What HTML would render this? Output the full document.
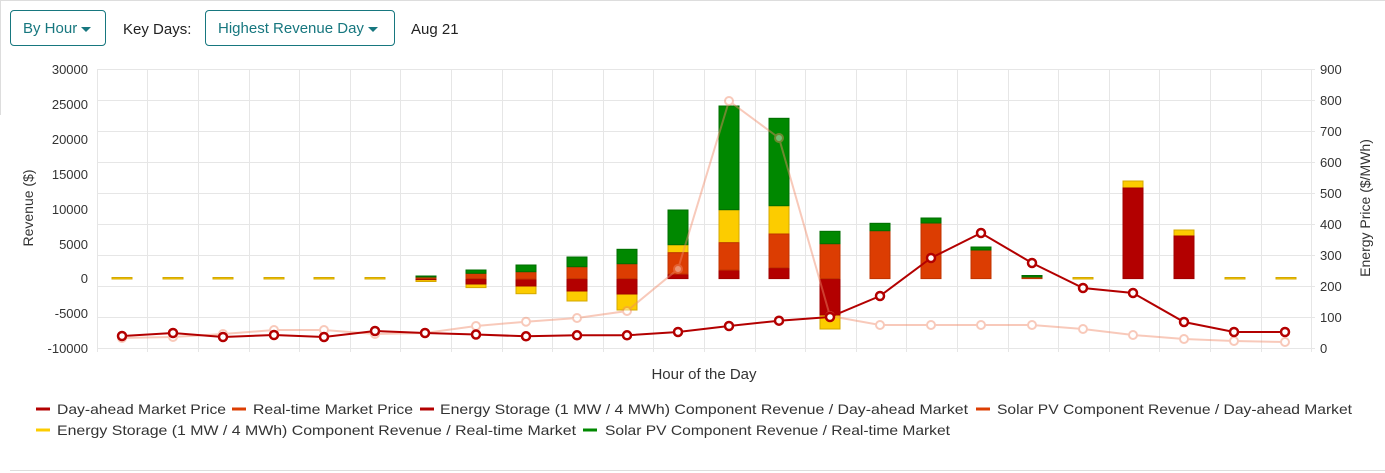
<!DOCTYPE html>
<html><head><meta charset="utf-8"><style>
html,body{margin:0;padding:0;background:#fff;width:1385px;height:473px;overflow:hidden;font-family:"Liberation Sans",sans-serif;}
.btn{position:absolute;top:10px;height:36px;border:1px solid #17777f;border-radius:4px;box-sizing:border-box;color:#17777f;font-size:15px;line-height:36px;padding-left:12px;}
.car{display:inline-block;width:0;height:0;border-left:5px solid transparent;border-right:5px solid transparent;border-top:5px solid #17777f;vertical-align:middle;margin-left:4px;}
.lbl{position:absolute;top:21px;font-size:15px;color:#222;}
</style></head><body>
<div style="position:absolute;left:0;top:0;width:1385px;height:1px;background:#ddd"></div>
<div style="position:absolute;left:0;top:0;width:1px;height:115px;background:#ddd"></div>
<div style="position:absolute;left:10px;top:470px;width:1375px;height:1px;background:#ddd"></div>
<div class="btn" style="left:10px;width:96px">By Hour<span class="car"></span></div>
<div class="lbl" style="left:123px">Key Days:</div>
<div class="btn" style="left:205px;width:190px">Highest Revenue Day<span class="car"></span></div>
<div class="lbl" style="left:411px">Aug 21</div>
<svg width="1385" height="473" style="position:absolute;left:0;top:0" font-family="Liberation Sans, sans-serif">
<g stroke="#e6e6e6" stroke-width="1">
<line x1="97" x2="1311" y1="69.5" y2="69.5"/><line x1="97" x2="1311" y1="100.5" y2="100.5"/><line x1="97" x2="1311" y1="131.5" y2="131.5"/><line x1="97" x2="1311" y1="162.5" y2="162.5"/><line x1="97" x2="1311" y1="193.5" y2="193.5"/><line x1="97" x2="1311" y1="224.5" y2="224.5"/><line x1="97" x2="1311" y1="255.5" y2="255.5"/><line x1="97" x2="1311" y1="286.5" y2="286.5"/><line x1="97" x2="1311" y1="317.5" y2="317.5"/><line x1="97" x2="1311" y1="348.5" y2="348.5"/>
<line x1="97.5" x2="97.5" y1="69" y2="352"/><line x1="147.5" x2="147.5" y1="69" y2="352"/><line x1="198.5" x2="198.5" y1="69" y2="352"/><line x1="249.5" x2="249.5" y1="69" y2="352"/><line x1="299.5" x2="299.5" y1="69" y2="352"/><line x1="350.5" x2="350.5" y1="69" y2="352"/><line x1="400.5" x2="400.5" y1="69" y2="352"/><line x1="451.5" x2="451.5" y1="69" y2="352"/><line x1="502.5" x2="502.5" y1="69" y2="352"/><line x1="552.5" x2="552.5" y1="69" y2="352"/><line x1="603.5" x2="603.5" y1="69" y2="352"/><line x1="653.5" x2="653.5" y1="69" y2="352"/><line x1="704.5" x2="704.5" y1="69" y2="352"/><line x1="755.5" x2="755.5" y1="69" y2="352"/><line x1="805.5" x2="805.5" y1="69" y2="352"/><line x1="856.5" x2="856.5" y1="69" y2="352"/><line x1="906.5" x2="906.5" y1="69" y2="352"/><line x1="957.5" x2="957.5" y1="69" y2="352"/><line x1="1008.5" x2="1008.5" y1="69" y2="352"/><line x1="1058.5" x2="1058.5" y1="69" y2="352"/><line x1="1109.5" x2="1109.5" y1="69" y2="352"/><line x1="1159.5" x2="1159.5" y1="69" y2="352"/><line x1="1210.5" x2="1210.5" y1="69" y2="352"/><line x1="1261.5" x2="1261.5" y1="69" y2="352"/><line x1="1311.5" x2="1311.5" y1="69" y2="352"/>
<line x1="1311" x2="1315" y1="69.5" y2="69.5"/><line x1="1311" x2="1315" y1="100.5" y2="100.5"/><line x1="1311" x2="1315" y1="131.5" y2="131.5"/><line x1="1311" x2="1315" y1="162.5" y2="162.5"/><line x1="1311" x2="1315" y1="193.5" y2="193.5"/><line x1="1311" x2="1315" y1="224.5" y2="224.5"/><line x1="1311" x2="1315" y1="255.5" y2="255.5"/><line x1="1311" x2="1315" y1="286.5" y2="286.5"/><line x1="1311" x2="1315" y1="317.5" y2="317.5"/><line x1="1311" x2="1315" y1="348.5" y2="348.5"/>
</g>
<g font-size="13" fill="#333" text-anchor="end">
<text x="88" y="74">30000</text><text x="88" y="109">25000</text><text x="88" y="144">20000</text><text x="88" y="179">15000</text><text x="88" y="214">10000</text><text x="88" y="249">5000</text><text x="88" y="283">0</text><text x="88" y="318">-5000</text><text x="88" y="353">-10000</text>
</g>
<g font-size="13" fill="#333">
<text x="1320" y="74">900</text><text x="1320" y="105">800</text><text x="1320" y="136">700</text><text x="1320" y="167">600</text><text x="1320" y="198">500</text><text x="1320" y="229">400</text><text x="1320" y="260">300</text><text x="1320" y="291">200</text><text x="1320" y="322">100</text><text x="1320" y="353">0</text>
</g>
<text transform="translate(33,208) rotate(-90)" font-size="14" fill="#333" text-anchor="middle">Revenue ($)</text>
<text transform="translate(1370,208) rotate(-90)" font-size="14" fill="#333" text-anchor="middle">Energy Price ($/MWh)</text>
<text x="704" y="379" font-size="15" fill="#333" text-anchor="middle">Hour of the Day</text>
<g stroke-width="1">
<g fill="#fccc00" stroke="#d4a800">
<rect x="112" y="277.5" width="20" height="1.5"/><rect x="163" y="277.5" width="20" height="1.5"/><rect x="213" y="277.5" width="20" height="1.5"/><rect x="264" y="277.5" width="20" height="1.5"/><rect x="314" y="277.5" width="20" height="1.5"/><rect x="365" y="277.5" width="20" height="1.5"/><rect x="1073" y="277.5" width="20" height="1.5"/><rect x="1225" y="277.5" width="20" height="1.5"/><rect x="1276" y="277.5" width="20" height="1.5"/>
<rect x="416" y="279.5" width="20" height="2"/><rect x="466" y="284" width="20" height="3.6"/><rect x="516" y="286" width="20" height="7.7"/><rect x="567" y="291" width="20" height="10"/><rect x="617" y="294" width="20" height="16"/><rect x="668" y="244.7" width="20" height="8"/><rect x="719" y="209.7" width="20" height="33"/><rect x="769" y="205.7" width="20" height="28.3"/><rect x="820" y="315" width="20" height="14"/><rect x="1123" y="181" width="20" height="7"/><rect x="1174" y="230" width="20" height="6"/>
</g>
<g fill="#b30000" stroke="#a00000">
<rect x="416" y="278.6" width="20" height="1"/><rect x="466" y="278.6" width="20" height="5.4"/><rect x="516" y="279" width="20" height="7"/><rect x="567" y="278.6" width="20" height="12.4"/><rect x="617" y="278.6" width="20" height="15.4"/><rect x="668" y="274" width="20" height="4.6"/><rect x="719" y="270" width="20" height="8.6"/><rect x="769" y="267.7" width="20" height="10.9"/><rect x="820" y="278.6" width="20" height="36.4"/><rect x="1123" y="188" width="20" height="90.6"/><rect x="1174" y="236" width="20" height="42.6"/>
</g>
<g fill="#dc3d02" stroke="#c03400">
<rect x="416" y="277" width="20" height="1.6"/><rect x="466" y="273.3" width="20" height="5.3"/><rect x="516" y="271.7" width="20" height="7.3"/><rect x="567" y="266.7" width="20" height="11.9"/><rect x="617" y="263.7" width="20" height="14.9"/><rect x="668" y="252.7" width="20" height="21.3"/><rect x="719" y="242.7" width="20" height="27.3"/><rect x="769" y="234" width="20" height="33.7"/><rect x="820" y="243.7" width="20" height="34.9"/><rect x="870" y="230.7" width="20" height="47.9"/><rect x="921" y="223" width="20" height="55.6"/><rect x="971" y="250" width="20" height="28.6"/><rect x="1022" y="277" width="20" height="1.6"/>
</g>
<g fill="#008800" stroke="#006e00">
<rect x="416" y="276" width="20" height="1"/><rect x="466" y="270" width="20" height="3.3"/><rect x="516" y="265" width="20" height="6.7"/><rect x="567" y="257" width="20" height="9.7"/><rect x="617" y="249.3" width="20" height="14.4"/><rect x="668" y="210" width="20" height="34.7"/><rect x="719" y="106" width="20" height="103.7"/><rect x="769" y="118.3" width="20" height="87.4"/><rect x="820" y="231.3" width="20" height="12.4"/><rect x="870" y="223.3" width="20" height="7.4"/><rect x="921" y="218" width="20" height="5"/><rect x="971" y="247" width="20" height="3"/><rect x="1022" y="275.5" width="20" height="1.5"/>
</g>
</g>
<g opacity="0.45">
<polyline fill="none" stroke="#f08a68" stroke-width="2" points="122,338 173,337 223,334 274,330 324,330 375,334 425,333 476,326 526,321.7 577,318 627,311 678,269 729,101 779,138 830,316 880,325 931,325 981,325 1032,325 1083,329 1133,335 1184,339 1234,341 1285,342"/>
<g fill="#fff" stroke="#f08a68" stroke-width="2">
<circle cx="122" cy="338" r="4"/><circle cx="173" cy="337" r="4"/><circle cx="223" cy="334" r="4"/><circle cx="274" cy="330" r="4"/><circle cx="324" cy="330" r="4"/><circle cx="375" cy="334" r="4"/><circle cx="425" cy="333" r="4"/><circle cx="476" cy="326" r="4"/><circle cx="526" cy="321.7" r="4"/><circle cx="577" cy="318" r="4"/><circle cx="627" cy="311" r="4"/><circle cx="678" cy="269" r="4"/><circle cx="729" cy="101" r="4"/><circle cx="779" cy="138" r="4"/><circle cx="830" cy="316" r="4"/><circle cx="880" cy="325" r="4"/><circle cx="931" cy="325" r="4"/><circle cx="981" cy="325" r="4"/><circle cx="1032" cy="325" r="4"/><circle cx="1083" cy="329" r="4"/><circle cx="1133" cy="335" r="4"/><circle cx="1184" cy="339" r="4"/><circle cx="1234" cy="341" r="4"/><circle cx="1285" cy="342" r="4"/>
</g></g>
<polyline fill="none" stroke="#b30000" stroke-width="2" points="122,336 173,333 223,337 274,335 324,337 375,331 425,333 476,334.5 526,336.3 577,335.3 627,335.3 678,332 729,326 779,320.7 830,317 880,296 931,258 981,233 1032,263 1083,288 1133,293 1184,322 1234,332 1285,332"/>
<g fill="#fff" stroke="#b30000" stroke-width="2.5">
<circle cx="122" cy="336" r="4"/><circle cx="173" cy="333" r="4"/><circle cx="223" cy="337" r="4"/><circle cx="274" cy="335" r="4"/><circle cx="324" cy="337" r="4"/><circle cx="375" cy="331" r="4"/><circle cx="425" cy="333" r="4"/><circle cx="476" cy="334.5" r="4"/><circle cx="526" cy="336.3" r="4"/><circle cx="577" cy="335.3" r="4"/><circle cx="627" cy="335.3" r="4"/><circle cx="678" cy="332" r="4"/><circle cx="729" cy="326" r="4"/><circle cx="779" cy="320.7" r="4"/><circle cx="830" cy="317" r="4"/><circle cx="880" cy="296" r="4"/><circle cx="931" cy="258" r="4"/><circle cx="981" cy="233" r="4"/><circle cx="1032" cy="263" r="4"/><circle cx="1083" cy="288" r="4"/><circle cx="1133" cy="293" r="4"/><circle cx="1184" cy="322" r="4"/><circle cx="1234" cy="332" r="4"/><circle cx="1285" cy="332" r="4"/>
</g>
<g stroke-width="3">
<line x1="36" x2="50" y1="409" y2="409" stroke="#b30000"/><line x1="232" x2="246" y1="409" y2="409" stroke="#dc3d02"/><line x1="420" x2="434" y1="409" y2="409" stroke="#b30000"/><line x1="976" x2="990" y1="409" y2="409" stroke="#dc3d02"/>
<line x1="36" x2="50" y1="430" y2="430" stroke="#fccc00"/><line x1="583" x2="597" y1="430" y2="430" stroke="#008800"/>
</g>
<g font-size="14" fill="#333">
<text x="57" y="414" textLength="169" lengthAdjust="spacingAndGlyphs">Day-ahead Market Price</text>
<text x="253" y="414" textLength="160" lengthAdjust="spacingAndGlyphs">Real-time Market Price</text>
<text x="440" y="414" textLength="528" lengthAdjust="spacingAndGlyphs">Energy Storage (1 MW / 4 MWh) Component Revenue / Day-ahead Market</text>
<text x="997" y="414" textLength="355" lengthAdjust="spacingAndGlyphs">Solar PV Component Revenue / Day-ahead Market</text>
<text x="57" y="435" textLength="519" lengthAdjust="spacingAndGlyphs">Energy Storage (1 MW / 4 MWh) Component Revenue / Real-time Market</text>
<text x="605" y="435" textLength="345" lengthAdjust="spacingAndGlyphs">Solar PV Component Revenue / Real-time Market</text>
</g>
</svg>
</body></html>
